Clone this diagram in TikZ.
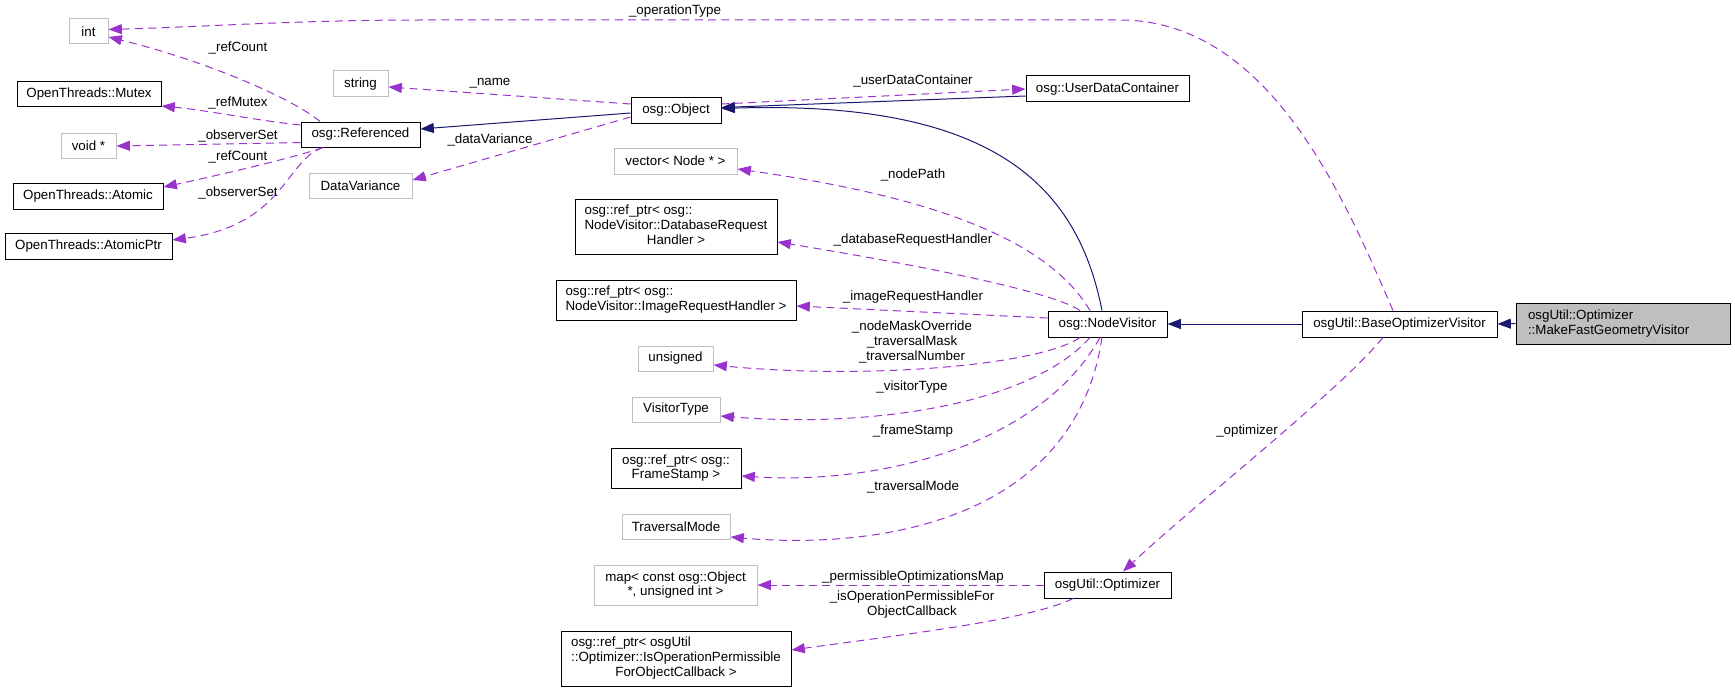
\documentclass[tikz,border=0pt]{standalone}
\usepackage{fontspec}
\setmainfont{Liberation Sans}
\usetikzlibrary{arrows.meta,calc}
\definecolor{navy}{HTML}{191970}
\definecolor{orchid}{HTML}{9A32CD}
\definecolor{grey75}{HTML}{BFBFBF}
\newcommand\dxfont{\fontsize{10}{11}\selectfont}
\newcommand\lastln[1]{\multicolumn{1}{@{}c@{}}{#1}}

\begin{document}
\begin{tikzpicture}[x=0.75pt,y=-0.75pt,
    box/.style={draw=black,line width=0.75pt,inner sep=0pt,font=\dxfont},
    extbox/.style={box,draw=grey75},
    sz/.style 2 args={minimum width=#1*0.75pt,minimum height=#2*0.75pt},
    lbl/.style={inner sep=0pt,font=\dxfont,align=center},
    inherit/.style={draw=navy,line width=0.75pt,-{Triangle[length=10pt,width=7.5pt]}},
    member/.style={draw=orchid,line width=0.75pt,dash pattern=on 6pt off 4pt,-{Triangle[length=10pt,width=7.5pt]}}]
    \useasboundingbox (0,0) rectangle (1735,692);

    % classes
    \node[extbox,sz={39}{25}] (int) at (88.5,31.5) {int};
    \node[box,sz={144}{25}] (mutex) at (89,94.5) {OpenThreads::Mutex};
    \node[extbox,sz={55}{25}] (voidp) at (88.5,145.5) {void *};
    \node[box,sz={150}{26}] (atomic) at (88,196) {OpenThreads::Atomic};
    \node[box,sz={167}{26}] (atomicptr) at (88.5,246) {OpenThreads::AtomicPtr};
    \node[box,sz={119}{25}] (refd) at (360.5,134.5) {osg::Referenced};
    \node[extbox,sz={55}{26}] (str) at (360.5,84) {string};
    \node[extbox,sz={103}{25}] (dvar) at (360.5,185.5) {DataVariance};
    \node[box,sz={90}{25}] (obj) at (676,110.5) {osg::Object};
    \node[box,sz={163}{26}] (udc) at (1107.5,89) {osg::UserDataContainer};
    \node[extbox,sz={123}{26}] (vec) at (675.5,161) {vector< Node * >};
    \node[box,sz={202}{55}] (dbreq) at (676,226.5) {\begin{tabular}{@{}l@{}}osg::ref\_ptr< osg::\\NodeVisitor::DatabaseRequest\\\lastln{Handler >}\end{tabular}};
    \node[box,sz={240}{40}] (imgreq) at (676,300) {\begin{tabular}{@{}l@{}}osg::ref\_ptr< osg::\\NodeVisitor::ImageRequestHandler >\end{tabular}};
    \node[extbox,sz={75}{25}] (uns) at (675.5,358.5) {unsigned};
    \node[extbox,sz={88}{25}] (vtype) at (676,409.5) {VisitorType};
    \node[box,sz={130}{40},align=center] (fstamp) at (676,468) {osg::ref\_ptr< osg::\\FrameStamp >};
    \node[extbox,sz={108}{25}] (tmode) at (676,526.5) {TraversalMode};
    \node[extbox,sz={163}{40},align=center] (pmap) at (675.5,585) {map< const osg::Object\\{}*, unsigned int >};
    \node[box,sz={230}{55}] (isop) at (676,658.5) {\begin{tabular}{@{}l@{}}osg::ref\_ptr< osgUtil\\::Optimizer::IsOperationPermissible\\\lastln{ForObjectCallback >}\end{tabular}};
    \node[box,sz={119}{26}] (nv) at (1107.5,324) {osg::NodeVisitor};
    \node[box,sz={127}{26}] (opt) at (1107.5,585) {osgUtil::Optimizer};
    \node[box,sz={195}{26}] (bov) at (1399.5,324) {osgUtil::BaseOptimizerVisitor};
    \node[box,fill=grey75,sz={214}{41},text width=142.5pt,align=left] (mfgv) at (1623,323.5) {osgUtil::Optimizer\\::MakeFastGeometryVisitor};

    % inheritance
    \draw[inherit] ($(obj.west)+(0,2.5)$) -- ($(refd.east)+(0,-5.5)$);
    \draw[inherit] ($(udc.west)+(0,7)$) -- ($(obj.east)+(0,-3)$);
    \draw[inherit] ($(nv.north)+(-5.5,0)$) .. controls (1077,183) and (990,100) .. ($(obj.east)+(0,-2)$);
    \draw[inherit] (bov.west) -- (nv.east);
    \draw[inherit] (mfgv.west) -- (bov.east);

    % members
    \draw[member] ($(refd.north)+(-40.5,0)$) .. controls (295,100) and (210,62) .. ($(int.east)+(0,5.5)$);
    \draw[member] ($(refd.west)+(0,-9.5)$) .. controls (260,121) and (205,110) .. ($(mutex.east)+(0,11.5)$);
    \draw[member] ($(refd.west)+(0,8)$) -- ($(voidp.east)+(0,0.5)$);
    \draw[member] ($(refd.south)+(-37.5,0)$) .. controls (300,156) and (220,175) .. ($(atomic.east)+(0,-9)$);
    \draw[member] ($(refd.south)+(-37.5,0)$) .. controls (285,160) and (285,225) .. ($(atomicptr.east)+(0,-6)$);
    \draw[member] ($(obj.west)+(0,-6.5)$) -- ($(str.east)+(0,3)$);
    \draw[member] ($(obj.west)+(0,6.5)$) -- ($(dvar.east)+(0,-5.5)$);
    \draw[member] ($(obj.east)+(0,-6.5)$) -- (udc.west);
    \draw[member] ($(bov.north)+(-6.5,0)$) .. controls (1345,200) and (1270,20) .. (1120,20) -- (420,20) .. controls (300,20) and (200,27) .. ($(int.east)+(0,-2)$);
    \draw[member] ($(nv.north)+(-17.5,0)$) .. controls (1045,235) and (920,195) .. ($(vec.east)+(0,8)$);
    \draw[member] ($(nv.north)+(-27.5,0)$) .. controls (1050,290) and (900,262) .. ($(dbreq.east)+(0,15.5)$);
    \draw[member] ($(nv.west)+(0,-6)$) -- ($(imgreq.east)+(0,6)$);
    \draw[member] ($(nv.south)+(-27.5,0)$) .. controls (1040,365) and (870,380) .. ($(uns.east)+(0,6.5)$);
    \draw[member] ($(nv.south)+(-17.5,0)$) .. controls (1030,405) and (870,428) .. ($(vtype.east)+(0,6.5)$);
    \draw[member] ($(nv.south)+(-7.5,0)$) .. controls (1040,445) and (880,485) .. ($(fstamp.east)+(0,8)$);
    \draw[member] ($(nv.south)+(-5.5,0)$) .. controls (1075,520) and (880,550) .. ($(tmode.east)+(0,10.5)$);
    \draw[member] (opt.west) -- (pmap.east);
    \draw[member] ($(opt.south)+(-34.5,0)$) .. controls (1030,620) and (900,635) .. ($(isop.east)+(0,-8.5)$);
    \draw[member] ($(bov.south)+(-16.5,0)$) .. controls (1340,390) and (1200,500) .. ($(opt.north)+(15.5,0)$);

    % labels
    \node[lbl] (loptype) at (675,11) {\_operationType};
    \node[lbl] (lrefcount) at (238,48) {\_refCount};
    \node[lbl] (lrefmutex) at (238,103) {\_refMutex};
    \node[lbl] (lobserver) at (238,136) {\_observerSet};
    \node[lbl] (lrefcountb) at (238,157) {\_refCount};
    \node[lbl] (lobserverb) at (238,193) {\_observerSet};
    \node[lbl] (lname) at (490,83) {\_name};
    \node[lbl] (ldvar) at (490,140) {\_dataVariance};
    \node[lbl] (ludc) at (913,81) {\_userDataContainer};
    \node[lbl] (lnodepath) at (913,175) {\_nodePath};
    \node[lbl] (ldbreq) at (913,240) {\_databaseRequestHandler};
    \node[lbl] (limgreq) at (913,297) {\_imageRequestHandler};
    \node[lbl] (lmask) at (912,342) {\_nodeMaskOverride\\\_traversalMask\\\_traversalNumber};
    \node[lbl] (lvtype) at (912,387) {\_visitorType};
    \node[lbl] (lfstamp) at (913,431) {\_frameStamp};
    \node[lbl] (ltmode) at (913,487) {\_traversalMode};
    \node[lbl] (lpmap) at (913,577) {\_permissibleOptimizationsMap};
    \node[lbl] (lisop) at (912,604.5) {\_isOperationPermissibleFor\\ObjectCallback};
    \node[lbl] (lopt) at (1247,431) {\_optimizer};
\end{tikzpicture}
\end{document}
